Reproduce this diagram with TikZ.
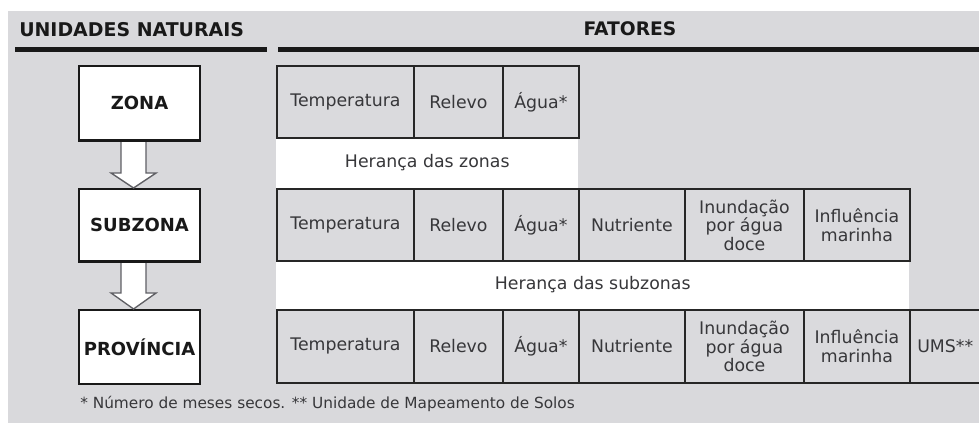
\documentclass[tikz,border=0pt]{standalone}
\usepackage{fontspec}
\setmainfont{DejaVu Sans}
\usetikzlibrary{calc}
\definecolor{bggray}{RGB}{217,217,220}
\definecolor{cellgray}{RGB}{218,218,221}
\definecolor{txtgray}{RGB}{55,55,58}
\definecolor{arrowline}{RGB}{95,95,100}
\newcommand\pxu{0.75pt}
\tikzset{
  cell/.style={draw=black!85, line width=1.4pt, fill=cellgray, inner sep=0pt, text=txtgray,
    font=\fontsize{13}{13.9}\selectfont, align=center, anchor=north west},
  unitbox/.style={draw=black!90, line width=1.6pt, fill=white, inner sep=0pt, text=black!90,
    font=\bfseries\fontsize{13.5}{15}\selectfont, anchor=north west,
    minimum width=121*\pxu},
  band/.style={fill=white, inner sep=0pt, text=txtgray, font=\fontsize{13}{13.9}\selectfont,
    anchor=north west},
  header/.style={font=\bfseries\fontsize{14.2}{16}\selectfont, text=black!90, inner sep=0pt},
  hrule/.style={line width=3.75pt, black!90},
  blockarrow/.style={fill=white, draw=arrowline, line width=1pt, line join=miter},
}
\begin{document}
\begin{tikzpicture}[x=0.75pt,y=-0.75pt]
\useasboundingbox (0,0) rectangle (979,423);
\clip (0,0) rectangle (979,423);
\fill[white] (0,0) rectangle (979,423);
\fill[bggray] (8,11) rectangle (979,423);

% headers
\node[header, anchor=base west] (hunid) at (19,37) {UNIDADES NATURAIS};
\node[header, anchor=base, font=\bfseries\fontsize{14}{16}\selectfont] (hfat) at (630,36) {FATORES};
\coordinate (l1a) at (15,50); \coordinate (l1b) at (267,50);
\coordinate (l2a) at (278,50); \coordinate (l2b) at (979,50);
\draw[hrule] (l1a) -- (l1b);
\draw[hrule] (l2a) -- (l2b);

% unit boxes
\node[unitbox, minimum height=74*\pxu] (zona) at (78,65) {ZONA};
\node[unitbox, minimum height=72*\pxu] (subzona) at (78,188) {SUBZONA};
\node[unitbox, minimum height=74*\pxu] (prov) at (78,309) {PROVÍNCIA};

% white bands
\node[band, minimum width=302*\pxu, minimum height=51*\pxu] (band1) at (276,137) {Herança das zonas};
\node[band, minimum width=633*\pxu, minimum height=49*\pxu] (band2) at (276,260) {Herança das subzonas};

% row 1
\node[cell, minimum width=137*\pxu, minimum height=72*\pxu] (r1a) at (276,65) {Temperatura};
\node[cell, minimum width=89*\pxu, minimum height=72*\pxu] (r1b) at (413,65) {Relevo};
\node[cell, minimum width=76*\pxu, minimum height=72*\pxu] (r1c) at (502,65) {Água*};

% row 2
\node[cell, minimum width=137*\pxu, minimum height=72*\pxu] (r2a) at (276,188) {Temperatura};
\node[cell, minimum width=89*\pxu, minimum height=72*\pxu] (r2b) at (413,188) {Relevo};
\node[cell, minimum width=76*\pxu, minimum height=72*\pxu] (r2c) at (502,188) {Água*};
\node[cell, minimum width=106*\pxu, minimum height=72*\pxu] (r2d) at (578,188) {Nutriente};
\node[cell, minimum width=119*\pxu, minimum height=72*\pxu] (r2e) at (684,188) {Inundação\\por água\\doce};
\node[cell, minimum width=106*\pxu, minimum height=72*\pxu] (r2f) at (803,188) {Influência\\marinha};

% row 3
\node[cell, minimum width=137*\pxu, minimum height=73*\pxu] (r3a) at (276,309) {Temperatura};
\node[cell, minimum width=89*\pxu, minimum height=73*\pxu] (r3b) at (413,309) {Relevo};
\node[cell, minimum width=76*\pxu, minimum height=73*\pxu] (r3c) at (502,309) {Água*};
\node[cell, minimum width=106*\pxu, minimum height=73*\pxu] (r3d) at (578,309) {Nutriente};
\node[cell, minimum width=119*\pxu, minimum height=73*\pxu] (r3e) at (684,309) {Inundação\\por água\\doce};
\node[cell, minimum width=106*\pxu, minimum height=73*\pxu] (r3f) at (803,309) {Influência\\marinha};
\node[cell, minimum width=90*\pxu, minimum height=73*\pxu, text width=70*\pxu, align=left] (r3g) at (909,309) {\hspace*{-2pt}UMS**};

% block arrows
\coordinate (a1s) at ($(zona.south)+(-6,0)$);
\coordinate (a1e) at ($(subzona.north)+(-6,0)$);
\draw[blockarrow] ($(a1s)+(-12.5,0)$) -- ($(a1e)+(-12.5,-15)$) -- ($(a1e)+(-22.5,-15)$) -- (a1e)
  -- ($(a1e)+(22.5,-15)$) -- ($(a1e)+(12.5,-15)$) -- ($(a1s)+(12.5,0)$);
\coordinate (a2s) at ($(subzona.south)+(-6,0)$);
\coordinate (a2e) at ($(prov.north)+(-6,0)$);
\draw[blockarrow] ($(a2s)+(-12.5,0)$) -- ($(a2e)+(-12.5,-16)$) -- ($(a2e)+(-22.5,-16)$) -- (a2e)
  -- ($(a2e)+(22.5,-16)$) -- ($(a2e)+(12.5,-16)$) -- ($(a2s)+(12.5,0)$);
% redraw box borders over arrow ends
\draw[black!90, line width=1.6pt] (zona.south west) -- (zona.south east);
\draw[black!90, line width=1.6pt] (subzona.south west) -- (subzona.south east);

% footnote
\node[anchor=base west, inner sep=0pt, text=txtgray, font=\fontsize{11.5}{13}\selectfont] (foot) at (80,409)
  {* Número de meses secos. ** Unidade de Mapeamento de Solos};
\end{tikzpicture}
\end{document}
